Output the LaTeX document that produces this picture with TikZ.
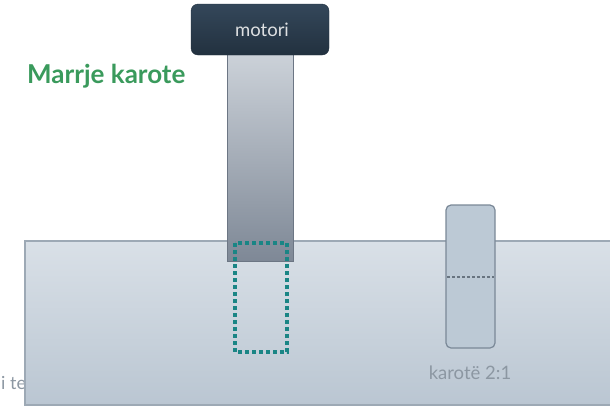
\documentclass[tikz,border=0pt]{standalone}
\usepackage{fontspec}
\setmainfont{Lato}
\definecolor{navy}{HTML}{22313F}
\definecolor{navytop}{HTML}{34475A}
\definecolor{slabtop}{HTML}{D9E0E7}
\definecolor{slabbot}{HTML}{BAC6D2}
\definecolor{slabedge}{HTML}{9DA9B5}
\definecolor{shafttop}{HTML}{CDD3DA}
\definecolor{shaftbot}{HTML}{7E8896}
\definecolor{shaftedge}{HTML}{6C7684}
\definecolor{teal}{HTML}{1A8585}
\definecolor{corefill}{HTML}{BCC9D5}
\definecolor{coreedge}{HTML}{7A8897}
\definecolor{titlegreen}{HTML}{3A9A5C}
\definecolor{labelgray}{HTML}{8C97A2}
\tikzset{
  slab/.style={top color=slabtop, bottom color=slabbot, draw=slabedge, line width=1.2pt},
  motorbox/.style={rounded corners=7pt, top color=navytop, bottom color=navy, draw=navy},
  shaft/.style={top color=shafttop, bottom color=shaftbot, draw=shaftedge, line width=0.8pt},
  cutline/.style={draw=teal, line width=3.2pt, dash pattern=on 4pt off 3pt},
  coresample/.style={fill=corefill, draw=coreedge, line width=1.2pt, rounded corners=5pt},
  splitline/.style={draw=coreedge!85!black, line width=1.3pt, dash pattern=on 2.5pt off 2.5pt}
}
\begin{document}
\begin{tikzpicture}[x=1pt,y=-1pt]
  \useasboundingbox (0,0) rectangle (610,408);
  % partly hidden caption behind the block
  \node[anchor=base west, font=\fontsize{18}{20}\selectfont, text=labelgray, inner sep=0] (hidden) at (1,389) {i te};
  % concrete block
  \path[slab] (25,241) rectangle (614,405);
  \node (block) at (317,323) {};
  % drill shaft and motor
  \path[shaft] (227,50) rectangle (293,261);
  \node (shaftnode) at (260,150) {};
  \path[motorbox] (191,4) rectangle (329,55);
  \node[text=white!85!navy, font=\fontsize{18.5}{21}\selectfont] (motor) at (262,30) {motori};
  % outline of the cut core
  \path[cutline] (235,243) rectangle (287,352);
  \node (cut) at (260,298) {};
  % extracted core sample
  \path[coresample] (446,205) rectangle (495,348);
  \node (core) at (470,276) {};
  \draw[splitline] (447,277) -- (494,277);
  \node[text=labelgray, font=\fontsize{18.5}{21}\selectfont] (corelabel) at (470,373) {karotë 2:1};
  % title
  \node[anchor=west, text=titlegreen, font=\bfseries\fontsize{26}{30}\selectfont, inner sep=0] (title) at (27,76) {Marrje karote};
\end{tikzpicture}
\end{document}
